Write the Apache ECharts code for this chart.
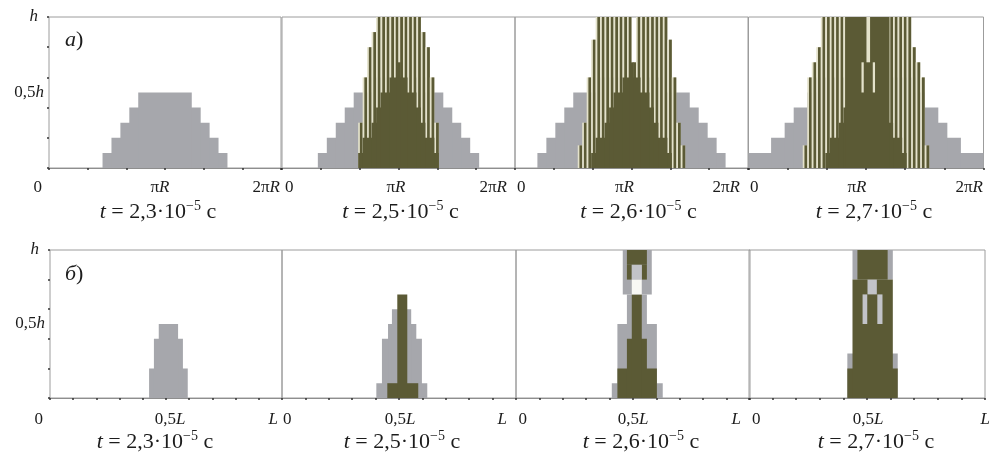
<!DOCTYPE html>
<html><head><meta charset="utf-8">
<script src="https://cdn.jsdelivr.net/npm/echarts@6/dist/echarts.min.js"></script>
<style>html,body{margin:0;padding:0;background:#fff}#c{width:992px;height:456px}</style>
</head><body><div id="c"></div>
<script>
// ---------- DATA ----------
// Top row (а): x in cells of 2πR/52 (0..52), y in units of 0.1h (0..10)
var topTimes = ['2,3', '2,5', '2,6', '2,7'];
var botTimes = ['2,3', '2,5', '2,6', '2,7'];
// gray stair levels [x0, x1, height]
var a1Gray = [[12,40,1],[14,38,2],[16,36,3],[18,34,4],[20,32,5]];
var a2Gray = [[8,44,1],[10,42,2],[12,40,3],[14,38,4],[16,36,5],[20,32,6]];
var a3Gray = [[5,47,1],[7,45,2],[9,43,3],[11,41,4],[13,39,5],[19,33,6]];
var a4Gray = [[0,52,1],[5,47,2],[8,44,3],[10,42,4],[13,39,5],[15,37,6]];
// solid dark core (pyramid) levels
var aCore = [[17,35,1],[18,34,2],[20,32,3],[21,31,4],[22,30,5],[24,28,6],[25.5,26.5,7]];
// thin dark spikes: first cell index + heights per cell
var a2SpikeStart = 17;
var a2Spikes = [3,6,8,9,10,10,10,10,10,10,10,10,10,10,9,8,6,3];
var a3SpikeStart = 14;
var a3Spikes = [1.5,3,6,8.5,10,10,10,10,10,10,10,10,7,10,10,10,10,10,10,10,8.5,6,3,1.5];
var a4SpikeStart = 12;
var a4Spikes = [1.5,6,7,8,10,10,10,10,10,10,10,10,10,10,10,10,10,10,10,10,10,10,10,10,8,7,6,1.5];
var a4Block = [[21.5,31.2,0,10]];
var a4Gaps = [[26.1,26.9,7,10],[25,25.5,5,7],[27.5,28,5,7]];

// Bottom row (б): x in units of L/96 (0..96), y in units of 0.1h
var b1Gray = [[41,57,0,2],[43,55,0,4],[45,53,0,5]];
var b2Gray = [[38.7,59.6,0,1],[41,57.4,0,4],[43.5,55.1,0,5],[45.1,53,0,6]];
var b2Dark = [[43.2,55.9,0,1],[47.3,51.4,0,7]];
var b3Gray = [[39.3,60.2,0,1],[41.6,57.8,0,5],[45.5,53.7,0,7],[43.8,55.7,7,10]];
var b3Dark = [[41.6,57.8,0,2],[45.5,53.7,0,4],[47.5,51.6,0,7],[45.5,53.7,9,10],[45.5,47.5,8,9],[51.6,53.7,8,9]];
var b3Light = [[47.5,51.6,8,9]];
var b3White = [[47.5,51.6,7,8]];
var b4Gray = [[40,60.5,0,3],[42.1,58.5,8,10]];
var b4Dark = [[40,60.5,0,2],[42.1,58.5,0,8],[44.1,56.4,8,10]];
var b4Light = [[48.2,52,7,8],[46.2,48.1,5,7],[52.2,54.3,5,7]];

// ---------- STYLE / LAYOUT ----------
var GRAY = '#a6a7ac', DARK = '#5b5a35', CREAM = '#e4e2cb', LIGHT = '#c2c3c8', WHITE = '#f8f8f4';
var SERIF = '"Liberation Serif","Times New Roman",serif';
var TXT = '#1c1c1c';
var topLefts = [49, 282, 515, 748.5], topWidths = [232, 233, 233, 235];
var botLefts = [50, 282, 516, 749], botWidths = [232, 234, 234, 236];
// label placement tweaks (px): gap of "0", shift of middle label, gap of end label, shift of subtitle
var topLab = [{z: -7, m: -5, e: 1, n: -7}, {z: 3, m: -2.5, e: 8, n: 2}, {z: 2, m: -7, e: 8, n: 7}, {z: 1.5, m: -9, e: 0.5, n: 8}];
var botLab = [{z: -7, m: 4, e: 4, n: -11}, {z: 1, m: 1, e: 9, n: 3}, {z: 2.5, m: 0, e: 9, n: 8}, {z: 3, m: 1, e: -5, n: 9}];

var ctx = document.createElement('canvas').getContext('2d');
function tw(s, italic, size) { ctx.font = (italic ? 'italic ' : '') + (size || 17) + 'px "Liberation Serif"'; return ctx.measureText(s).width; }
function tok(o) { var r = {fontFamily: SERIF, fontSize: 17, color: TXT}; for (var k in o) r[k] = o[k]; return r; }

var grids = [], xAxes = [], yAxes = [], series = [];
var mainY = [];
function near(a, b) { return Math.abs(a - b) < 1e-6; }

var yRich = {
  y: tok({}), yi: tok({fontStyle: 'italic'}),
  yh: tok({fontStyle: 'italic', padding: [0, 6, 0, 0]})
};

function addGrid(left, width, top, height, isTop, first, time, lab) {
  var gi = grids.length;
  grids.push({left: left, top: top, width: width, height: height, show: true, outerBoundsMode: 'none',
    borderColor: '#9c9c9c', borderWidth: 1, backgroundColor: 'transparent', containLabel: false});
  var N = isTop ? 52 : 96;
  var w0 = tw('0', false);
  var wEnd = isTop ? tw('2π', false) + tw('R', true) : tw('L', true);
  var rich = {
    z: tok({padding: lab.z >= 0 ? [0, 0, 0, w0 + 2 * lab.z] : [0, w0 - 2 * lab.z, 0, 0]}),
    c: tok({padding: lab.m > 0 ? [0, 0, 0, 2 * lab.m] : [0, 0, 0, 0]}),
    ci: tok({fontStyle: 'italic', padding: lab.m < 0 ? [0, -2 * lab.m, 0, 0] : [0, 0, 0, 0]}),
    e: tok({}),
    ei: tok({fontStyle: 'italic', padding: [0, wEnd + 2 * lab.e, 0, 0]}),
    li: tok({fontStyle: 'italic', padding: [0, wEnd + 2 * lab.e, 0, 0]})
  };
  var nameRich = {
    ti: {fontFamily: SERIF, fontSize: 22, fontStyle: 'italic', color: TXT, lineHeight: 26,
      padding: lab.n > 0 ? [0, 0, 0, 2 * lab.n] : [0, 0, 0, 0]},
    n: {fontFamily: SERIF, fontSize: 22, color: TXT, lineHeight: 26},
    nl: {fontFamily: SERIF, fontSize: 22, color: TXT, lineHeight: 26,
      padding: lab.n < 0 ? [0, -2 * lab.n, 0, 0] : [0, 0, 0, 0]},
    s: {fontFamily: SERIF, fontSize: 14, color: TXT, lineHeight: 14, verticalAlign: 'top'}
  };
  xAxes.push({type: 'value', gridIndex: gi, min: 0, max: N, interval: N / (isTop ? 6 : 10),
    position: 'bottom',
    axisLine: {show: true, lineStyle: {color: '#8e8e8e', width: 1}},
    axisTick: {show: true, inside: false, length: 2, lineStyle: {color: '#333', width: 1.5}},
    splitLine: {show: false},
    axisLabel: {show: true, showMinLabel: true, showMaxLabel: true, margin: isTop ? 11 : 13,
      fontFamily: SERIF, fontSize: 17, color: TXT, rich: rich,
      formatter: function (v) {
        if (near(v, 0)) return '{z|0}';
        if (near(v, N / 2)) return isTop ? '{c|π}{ci|R}' : '{c|0,5}{ci|L}';
        if (near(v, N)) return isTop ? '{e|2π}{ei|R}' : '{li|L}';
        return '';
      }},
    name: '{ti|t}{n| = ' + time + '·10}{s|−5}{nl| с}',
    nameLocation: 'middle', nameGap: isTop ? 31 : 30,
    nameTextStyle: {fontFamily: SERIF, fontSize: 22, color: TXT, rich: nameRich}
  });
  mainY[gi] = yAxes.length;
  yAxes.push({type: 'value', gridIndex: gi, min: 0, max: 10, interval: 2, position: 'left',
    axisLine: {show: false}, splitLine: {show: false}, axisLabel: {show: false},
    axisTick: {show: first, inside: false, length: 2, lineStyle: {color: '#333', width: 1.5}}});
  if (first) {
    yAxes.push({type: 'value', gridIndex: gi, min: 0, max: 10, interval: 5, position: 'left', offset: 0,
      axisLine: {show: false}, splitLine: {show: false}, axisTick: {show: false},
      axisLabel: {show: true, margin: 5, fontFamily: SERIF, fontSize: 17, color: TXT, rich: yRich,
        formatter: function (v) {
          if (near(v, 5)) return '{y|0,5}{yi|h}';
          if (near(v, 10)) return '{yh|h}';
          return '';
        }}});
  }
  return gi;
}

function addRects(gi, rects, color, z) {
  if (!rects || !rects.length) return;
  series.push({type: 'custom', xAxisIndex: gi, yAxisIndex: mainY[gi], z: z, silent: true, animation: false,
    clip: true, encode: {x: [0, 1], y: [2, 3]},
    data: rects.map(function (r) { return r.length === 3 ? [r[0], r[1], 0, r[2]] : r; }),
    renderItem: function (params, api) {
      var a = api.coord([api.value(0), api.value(3)]);
      var b = api.coord([api.value(1), api.value(2)]);
      return {type: 'rect', shape: {x: a[0], y: a[1], width: b[0] - a[0], height: b[1] - a[1]},
        style: {fill: color}};
    }});
}
function addSpikes(gi, start, hs, z) {
  series.push({type: 'custom', xAxisIndex: gi, yAxisIndex: mainY[gi], z: z, silent: true, animation: false,
    clip: true, encode: {x: 0, y: 1},
    data: hs.map(function (h, k) { return [start + k, h]; }),
    renderItem: function (params, api) {
      var x = api.value(0), h = api.value(1);
      var a = api.coord([x, h]), b = api.coord([x + 1, 0]);
      var w = b[0] - a[0];
      return {type: 'group', children: [
        {type: 'rect', shape: {x: a[0], y: a[1], width: w, height: b[1] - a[1]}, style: {fill: CREAM}},
        {type: 'rect', shape: {x: a[0] + w * 0.38, y: a[1], width: w * 0.62, height: b[1] - a[1]}, style: {fill: DARK}}
      ]};
    }});
}

// top row
var tg = [];
for (var i = 0; i < 4; i++) tg.push(addGrid(topLefts[i], topWidths[i], 17, 151, true, i === 0, topTimes[i], topLab[i]));
addRects(tg[0], a1Gray, GRAY, 2);
addRects(tg[1], a2Gray, GRAY, 2); addSpikes(tg[1], a2SpikeStart, a2Spikes, 3); addRects(tg[1], aCore, DARK, 4);
addRects(tg[2], a3Gray, GRAY, 2); addSpikes(tg[2], a3SpikeStart, a3Spikes, 3); addRects(tg[2], aCore, DARK, 4);
addRects(tg[3], a4Gray, GRAY, 2); addSpikes(tg[3], a4SpikeStart, a4Spikes, 3); addRects(tg[3], aCore, DARK, 4);
addRects(tg[3], a4Block, DARK, 4); addRects(tg[3], a4Gaps, CREAM, 5);
// bottom row
var bg = [];
for (var j = 0; j < 4; j++) bg.push(addGrid(botLefts[j], botWidths[j], 250, 148, false, j === 0, botTimes[j], botLab[j]));
addRects(bg[0], b1Gray, GRAY, 2);
addRects(bg[1], b2Gray, GRAY, 2); addRects(bg[1], b2Dark, DARK, 4);
addRects(bg[2], b3Gray, GRAY, 2); addRects(bg[2], b3Dark, DARK, 4); addRects(bg[2], b3Light, LIGHT, 5); addRects(bg[2], b3White, WHITE, 5);
addRects(bg[3], b4Gray, GRAY, 2); addRects(bg[3], b4Dark, DARK, 4); addRects(bg[3], b4Light, LIGHT, 5);

var titleStyle = {fontFamily: SERIF, fontSize: 22, fontWeight: 'normal', color: TXT,
  rich: {i: {fontFamily: SERIF, fontSize: 22, fontStyle: 'italic', color: TXT}}};
var chart = echarts.init(document.getElementById('c'), null, {renderer: 'canvas'});
chart.setOption({
  animation: false,
  backgroundColor: '#ffffff',
  title: [
    {text: '{i|а})', left: 60, top: 24, textStyle: titleStyle},
    {text: '{i|б})', left: 60, top: 258, textStyle: titleStyle}
  ],
  grid: grids, xAxis: xAxes, yAxis: yAxes, series: series
});
</script></body></html>
